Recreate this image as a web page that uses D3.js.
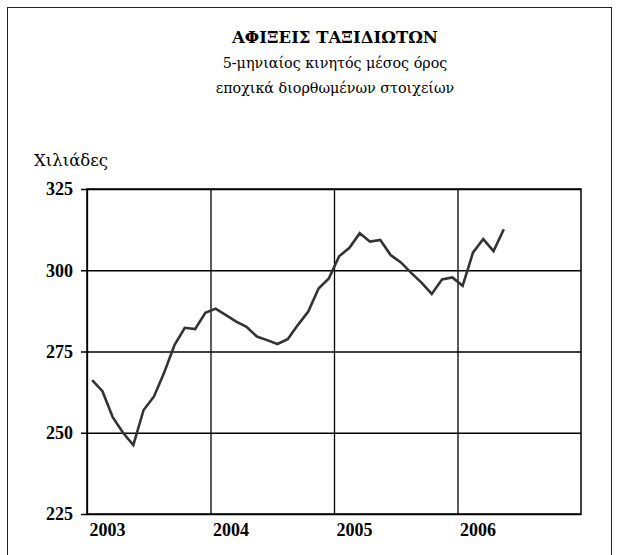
<!DOCTYPE html>
<html>
<head>
<meta charset="utf-8">
<script src="https://cdn.jsdelivr.net/npm/d3@7"></script>
<style>
  html, body { margin: 0; padding: 0; background: #fff; }
  svg { display: block; }
</style>
</head>
<body>
<div id="chart"></div>
<script>
// monthly values, Jan 2003 .. May 2006 (thousands)
const arrivals = [
  266.2, 262.8, 254.8, 250.0, 246.2, 257.0, 261.1, 268.5, 277.0, 282.3, 281.9, 286.9,
  288.2, 286.2, 284.2, 282.6, 279.6, 278.5, 277.3, 278.8, 283.2, 287.3, 294.4, 297.5,
  304.3, 306.9, 311.4, 308.8, 309.3, 304.7, 302.4, 299.2, 296.2, 292.7, 297.2, 297.8,
  295.2, 305.4, 309.6, 305.9, 312.6
];
const years = ['2003', '2004', '2005', '2006'];
const yTicks = [225, 250, 275, 300, 325];
const titleText = 'ΑΦΙΞΕΙΣ ΤΑΞΙΔΙΩΤΩΝ';
const subtitleLines = ['5-μηνιαίος κινητός μέσος όρος', 'εποχικά διορθωμένων στοιχείων'];
const unitLabel = 'Χιλιάδες';

const serif = '"Liberation Serif", "Times New Roman", serif';
const greekSerif = '"DejaVu Serif", "Liberation Serif", serif';
const width = 618, height = 555;
const plot = { left: 87, right: 581, top: 189, bottom: 514 };

const svg = d3.select('#chart').append('svg')
  .attr('width', width)
  .attr('height', height)
  .attr('font-family', serif);

// outer frame
svg.append('rect')
  .attr('x', 7.5).attr('y', 7.5)
  .attr('width', 604).attr('height', 560)
  .attr('fill', 'none')
  .attr('stroke', '#222')
  .attr('stroke-width', 1);

const x = d3.scaleLinear().domain([0, 48]).range([plot.left, plot.right]);
const y = d3.scaleLinear().domain([225, 325]).range([plot.bottom, plot.top]);

// titles
svg.append('text')
  .attr('x', 335).attr('y', 43)
  .attr('text-anchor', 'middle')
  .attr('font-family', greekSerif)
  .attr('font-size', 16.5).attr('font-weight', 'bold')
  .text(titleText);

svg.selectAll('text.sub')
  .data(subtitleLines)
  .join('text')
  .attr('class', 'sub')
  .attr('x', 335)
  .attr('y', (d, i) => 68 + i * 25)
  .attr('text-anchor', 'middle')
  .attr('font-family', greekSerif)
  .attr('font-size', 14.3)
  .text((d) => d);

svg.append('text')
  .attr('x', 34).attr('y', 166)
  .attr('font-family', greekSerif)
  .attr('font-size', 16.5)
  .text(unitLabel);

// horizontal gridlines + y axis
const yAxis = d3.axisLeft(y)
  .tickValues(yTicks)
  .tickSize(-(plot.right - plot.left))
  .tickPadding(14)
  .tickFormat(d3.format('d'));

const gy = svg.append('g')
  .attr('transform', `translate(${plot.left},0)`)
  .call(yAxis)
  .attr('font-family', serif);
gy.select('.domain').remove();
gy.selectAll('.tick line')
  .attr('x1', -6)
  .attr('stroke', '#000')
  .attr('stroke-width', 1.3);
gy.selectAll('.tick text')
  .attr('fill', '#000')
  .attr('font-size', 18)
  .attr('font-weight', 'bold');

// vertical gridlines at year starts + labels
const yearIdx = years.map((d, i) => i * 12);
const xAxis = d3.axisBottom(x)
  .tickValues(yearIdx)
  .tickSize(-(plot.bottom - plot.top))
  .tickPadding(9)
  .tickFormat((d, i) => years[i]);

const gx = svg.append('g')
  .attr('transform', `translate(0,${plot.bottom})`)
  .call(xAxis)
  .attr('font-family', serif);
gx.select('.domain').remove();
gx.selectAll('.tick line')
  .attr('stroke', '#000')
  .attr('stroke-width', 1.3);
gx.selectAll('.tick text')
  .attr('fill', '#000')
  .attr('text-anchor', 'start')
  .attr('dx', 2)
  .attr('font-size', 18)
  .attr('font-weight', 'bold');

// plot border
svg.append('rect')
  .attr('x', plot.left).attr('y', plot.top)
  .attr('width', plot.right - plot.left)
  .attr('height', plot.bottom - plot.top)
  .attr('fill', 'none')
  .attr('stroke', '#000')
  .attr('stroke-width', 1.5);

// series
const line = d3.line()
  .x((d, i) => x(i + 0.5))
  .y((d) => y(d));

svg.append('path')
  .datum(arrivals)
  .attr('d', line)
  .attr('fill', 'none')
  .attr('stroke', '#333')
  .attr('stroke-width', 2.6)
  .attr('stroke-linejoin', 'miter');
</script>
</body>
</html>
